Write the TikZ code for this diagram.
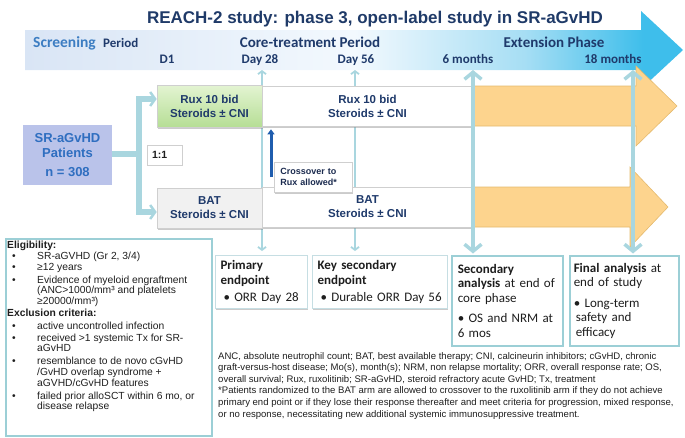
\documentclass[tikz,border=0pt]{standalone}
\usepackage{fontspec}
\setmainfont{Liberation Sans}
\newfontfamily\calfont{Carlito}
\usetikzlibrary{arrows.meta,shadows,calc}
\definecolor{navy}{HTML}{1F3A6B}
\definecolor{navydark}{HTML}{1B2B4F}
\definecolor{titlec}{HTML}{1F3A68}
\definecolor{scrblue}{HTML}{3C7DC2}
\definecolor{bandA}{HTML}{D9E5F5}
\definecolor{bandB}{HTML}{F3F9FE}
\definecolor{bandC}{HTML}{A6DEF4}
\definecolor{bandD}{HTML}{3EBEEB}
\definecolor{patfill}{HTML}{BAC3EA}
\definecolor{pattext}{HTML}{2F6EC0}
\definecolor{greenT}{HTML}{E3F4D2}
\definecolor{greenB}{HTML}{B6DE95}
\definecolor{batfill}{HTML}{F1F1F1}
\definecolor{orangef}{HTML}{FDD48E}
\definecolor{oranged}{HTML}{E4BA6E}
\definecolor{tline}{HTML}{A9D6DF}
\definecolor{boxline}{HTML}{C6DEE3}
\definecolor{boxline2}{HTML}{9CCFD6}
\definecolor{xblue}{HTML}{1F5DAE}
\definecolor{greyline}{HTML}{CFCFCF}
\definecolor{txt}{HTML}{1E1E1E}
\pgfdeclarehorizontalshading{bandshade}{100bp}{color(0bp)=(bandA); color(25bp)=(bandA); color(50bp)=(bandB); color(63bp)=(bandC); color(72bp)=(bandD); color(100bp)=(bandD)}
\newcommand{\eb}{\makebox[30pt][l]{\hspace{5pt}•}}
\newcommand{\ei}{\hspace*{30pt}}
\begin{document}
\begin{tikzpicture}[x=1pt,y=-1pt,
  bandlbl/.style={font=\calfont\bfseries\fontsize{15}{15}\selectfont, text=navy, inner sep=0pt},
  daylbl/.style={font=\calfont\bfseries\fontsize{13}{13}\selectfont, text=navy, inner sep=0pt, anchor=base},
  shd/.style={drop shadow={shadow xshift=0.8pt, shadow yshift=-1.5pt, fill=black!45, opacity=0.45}},
  armbox/.style={draw=greyline, line width=0.6pt, align=center, inner sep=0pt, font=\bfseries\fontsize{11.5}{14}\selectfont, text=navy, shd},
  tlthin/.style={draw=tline, line width=1.8pt, {Straight Barb[length=3pt,width=8pt]}-{Straight Barb[length=3pt,width=8pt]}},
  tlthick/.style={draw=tline, line width=3.5pt, {Straight Barb[length=7pt,width=17pt]}-{Straight Barb[length=7pt,width=17pt]}},
  brk/.style={draw=tline, line width=6.5pt, -{Straight Barb[length=5pt,width=14pt,line width=2.5pt]}},
  orng/.style={fill=orangef, draw=oranged, line width=0.6pt},
  epbox/.style={draw=boxline, line width=1pt, fill=white, anchor=north west, align=left, inner xsep=5pt, inner ysep=0pt, font=\calfont\fontsize{13}{14.5}\selectfont, text=txt},
]
\useasboundingbox (0,0) rectangle (685,437);

% title and time band
\node[font=\bfseries\fontsize{17}{17}\selectfont, text=titlec, anchor=base, inner sep=0pt] (title) at (375,23) {REACH-2 study: phase 3, open-label study in SR-aGvHD};
\shade[shading=bandshade] (25,30) -- (641,30) -- (641,11) -- (683,50) -- (641,89) -- (641,70) -- (25,70) -- cycle;
\node[inner sep=0pt, anchor=base west, text=scrblue, font=\calfont\bfseries\fontsize{15.5}{15}\selectfont] (scr) at (33,47) {Screening};
\node[daylbl, anchor=base west] (scrp) at (103,47) {Period};
\node[bandlbl, anchor=base] (core) at (310,47) {Core-treatment Period};
\node[bandlbl, anchor=base] (ext) at (554,47) {Extension Phase};
\node[daylbl] (d1) at (167,63) {D1};
\node[daylbl] (d28) at (260,63) {Day 28};
\node[daylbl] (d56) at (356,63) {Day 56};
\node[daylbl] (m6) at (468,63) {6 months};
\node[daylbl] (m18) at (613,63) {18 months};

% endpoint boxes
\node[epbox, shd, minimum width=92pt, minimum height=53pt, text width=82pt] (prim) at (215,255)
  {\textbf{Primary}\\\textbf{endpoint}\\[3pt]\hspace*{3pt}• ORR Day 28};
\node[epbox, shd, minimum width=135pt, minimum height=53pt, text width=125pt] (keysec) at (312,255)
  {\textbf{Key secondary}\\\textbf{endpoint}\\[3pt]\hspace*{3pt}• Durable ORR Day 56};
\node[epbox, draw=boxline2, line width=1.5pt, inner xsep=6pt, minimum width=111pt, minimum height=90pt, text width=99pt] (sec) at (451,255)
  {\textbf{Secondary}\\\textbf{analysis} at end of\\core phase\\[6pt]• OS and NRM at\\6 mos};
\node[epbox, draw=boxline2, line width=1.5pt, inner xsep=4pt, minimum width=109pt, minimum height=90pt, text width=101pt] (final) at (569,255)
  {\textbf{Final analysis} at\\end of study\\[6pt]• Long-term\\\hspace*{2pt}safety and\\\hspace*{2pt}efficacy};

% thin timeline lines (behind arm boxes)
\coordinate (t28) at (262,70);
\coordinate (t56) at (355,70);
\coordinate (t6) at (473,70);
\coordinate (t18) at (633,70);
\draw[tlthin, shorten >=4pt] (t28) -- (t28 |- prim.north);
\draw[tlthin, shorten >=4pt] (t56) -- (t56 |- keysec.north);

% patients and randomisation
\node[fill=patfill, minimum width=89pt, minimum height=60pt, align=center, inner sep=0pt, font=\bfseries\fontsize{13}{15}\selectfont, text=pattext] (pat) at (67.5,155) {SR-aGvHD\\Patients\\[4pt]n = 308};

% arm boxes
\node[armbox, top color=greenT, bottom color=greenB, minimum width=105pt, minimum height=42pt] (ruxL) at (209.5,106) {Rux 10 bid\\Steroids ± CNI};
\node[armbox, fill=batfill, minimum width=105pt, minimum height=40pt] (batL) at (209.5,208) {BAT\\Steroids ± CNI};
\node[armbox, fill=white, minimum width=211pt, minimum height=40pt] (ruxC) at (367.5,106) {Rux 10 bid\\Steroids ± CNI};
\node[armbox, fill=white, minimum width=211pt, minimum height=40pt] (batC) at (367.5,207) {BAT\\Steroids ± CNI};

\coordinate (split) at (139,154);
\draw[brk] (pat.east |- split) -- (split) |- ([yshift=7pt]ruxL.west);
\draw[brk] (pat.east |- split) -- (split) |- ([yshift=-4pt]batL.west);

\node[draw=greyline, fill=white, line width=0.6pt, minimum width=35pt, minimum height=20pt, text width=25pt, inner xsep=5pt, inner ysep=0pt, align=left, font=\bfseries\fontsize{10.5}{12}\selectfont, text=txt] (ratio) at (164.5,155) {1:1};

% extension arrows
\draw[orng] (473,86) -- (636,86) -- (636,66) -- (677,106) -- (636,146) -- (636,126) -- (473,126) -- cycle;
\draw[orng] (473,187) -- (630,187) -- (630,167) -- (668,207) -- (630,247) -- (630,227) -- (473,227) -- cycle;

% thick timeline lines (on top)
\draw[tlthick, shorten >=1.5pt] (t6) -- (t6 |- sec.north);
\draw[tlthick, shorten >=1.5pt] (t18) -- (t18 |- final.north);

% crossover
\node[draw=greyline, fill=white, line width=0.6pt, shd, anchor=north west, text width=66pt, inner xsep=6pt, inner ysep=0pt, minimum height=30pt, align=left, font=\bfseries\fontsize{9}{11}\selectfont, text=navydark] (xlab) at (274,162) {Crossover to\\Rux allowed*};
\coordinate (xa) at (271,177);
\draw[xblue, line width=3pt, -{Triangle[length=5pt,width=7pt]}] (xa) -- ([yshift=-3pt]xa |- ruxC.south);

% eligibility
\node[draw=boxline2, line width=1.5pt, anchor=north west, minimum width=206pt, minimum height=197pt, inner sep=0pt] (eligbox) at (5,238) {};
\node[anchor=north west, align=left, inner sep=0pt, font=\fontsize{10.3}{10.8}\selectfont, text=txt] (eligtxt) at (7,241) {%
\textbf{Eligibility:}\\
\eb SR-aGVHD (Gr 2, 3/4)\\
\eb ≥12 years\\[2pt]
\eb Evidence of myeloid engraftment\\
\ei (ANC>1000/mm³ and platelets\\
\ei ≥20000/mm³)\\[1pt]
\textbf{Exclusion criteria:}\\[2pt]
\eb active uncontrolled infection\\[1pt]
\eb received >1 systemic Tx for SR-\\
\ei aGvHD\\[2pt]
\eb resemblance to de novo cGvHD\\
\ei /GvHD overlap syndrome +\\
\ei aGVHD/cGvHD features\\[2pt]
\eb failed prior alloSCT within 6 mo, or\\
\ei disease relapse};

% footnote
\node[anchor=north west, align=left, inner sep=0pt, font=\fontsize{9.55}{11.6}\selectfont, text=txt] (foot) at (218,352) {%
ANC, absolute neutrophil count; BAT, best available therapy; CNI, calcineurin inhibitors; cGvHD, chronic\\
graft-versus-host disease; Mo(s), month(s); NRM, non relapse mortality; ORR, overall response rate; OS,\\
overall survival; Rux, ruxolitinib; SR-aGvHD, steroid refractory acute GvHD; Tx, treatment\\
*Patients randomized to the BAT arm are allowed to crossover to the ruxolitinib arm if they do not achieve\\
primary end point or if they lose their response thereafter and meet criteria for progression, mixed response,\\
or no response, necessitating new additional systemic immunosuppressive treatment.};
\end{tikzpicture}
\end{document}
